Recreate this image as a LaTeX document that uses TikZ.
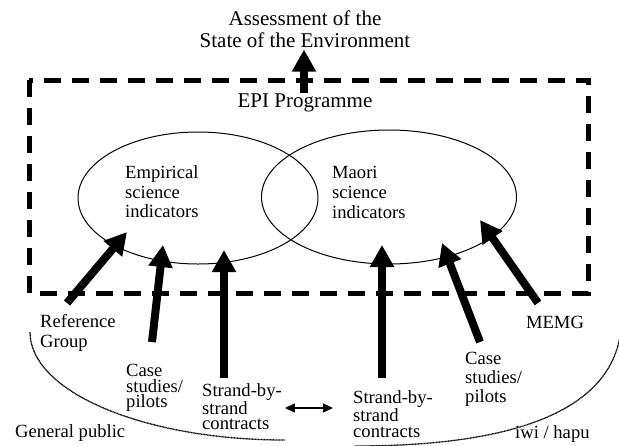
\documentclass[tikz,border=0pt]{standalone}
\usepackage{fontspec}
\setmainfont{Liberation Serif}
\usetikzlibrary{arrows.meta,shapes.geometric}

\begin{document}
\begin{tikzpicture}[x=1pt,y=-1pt,
  bigarrow/.style={line width=8pt,-{Triangle[width=23pt,length=22pt]}},
  pairarrow/.style={line width=1.5pt,{Triangle[width=9pt,length=10pt]}-{Triangle[width=9pt,length=10pt]}},
  dashbox/.style={line width=5pt,dash pattern=on 17pt off 11pt},
  ring/.style={ellipse,draw,line width=1pt,inner sep=0},
  lbl/.style={font=\fontsize{18.6}{#1}\selectfont,align=left,inner sep=0,anchor=west},
  lbl/.default=16,
  bigtxt/.style={font=\fontsize{21}{22}\selectfont,align=center,inner sep=0},
  crowd/.style={line width=1.3pt,dash pattern=on 1pt off 0.5pt}]
  \useasboundingbox (0,0) rectangle (619,445);

  % programme box and the two kinds of indicators
  \draw[dashbox] (29,80) rectangle (588,293);
  \node[ring,minimum width=240pt,minimum height=132pt] (emp) at (198,198) {};
  \node[ring,minimum width=255pt,minimum height=134pt] (mao) at (389,197) {};
  \node[lbl=19.5] (empT) at (125,192) {Empirical\\science\\indicators};
  \node[lbl=20]   (maoT) at (332,192) {Maori\\science\\indicators};

  \node[bigtxt] (soe) at (305,29) {Assessment of the\\State of the Environment};
  \node[bigtxt] (epi) at (305,103) {EPI Programme};
  \draw[bigarrow] ([yshift=1pt]epi.north -| 304,0) -- ([yshift=-2pt]soe.south -| 304,0);

  % contributors
  \node[lbl=20]   (refgrp) at (40,333)  {Reference\\Group};
  \node[lbl=15.5] (caseL)  at (126,388) {Case\\studies/\\pilots};
  \node[lbl=15]   (strL)   at (202,407) {Strand-by-\\strand\\contracts};
  \node[lbl=16]   (strR)   at (353,414) {Strand-by-\\strand\\contracts};
  \node[lbl=19]   (caseR)  at (465,379) {Case\\studies/\\pilots};
  \node[lbl,anchor=center] (memg) at (555,322) {MEMG};
  \node[lbl] (public) at (15,433)  {General public};
  \node[lbl] (iwi)    at (515,434) {iwi / hapu};

  \coordinate (refA)   at (67,303);  \coordinate (refB)   at (127,232);
  \coordinate (caseLA) at (152,342); \coordinate (caseLB) at (163,245);
  \coordinate (strLA)  at (224,378); \coordinate (strLB)  at (224,250);
  \coordinate (strRA)  at (382,378); \coordinate (strRB)  at (382,245);
  \coordinate (caseRA) at (480,342); \coordinate (caseRB) at (442,243);
  \coordinate (memgA)  at (538,303); \coordinate (memgB)  at (480,220);

  \foreach \from/\to in {refA/refB,caseLA/caseLB,strLA/strLB,strRA/strRB,caseRA/caseRB,memgA/memgB}
    \draw[bigarrow] (\from) -- (\to);

  \draw[pairarrow] ([xshift=3pt,yshift=-1pt]strL.east) -- ([xshift=-20pt,yshift=-1pt]strR.west |- strL.east);

  % the two communities
  \draw[crowd] (30,332) .. controls (30,392) and (144,440) .. (285,440);
  \draw[crowd] (355,446) .. controls (470,446) and (610,428) .. (621,330);
\end{tikzpicture}
\end{document}
